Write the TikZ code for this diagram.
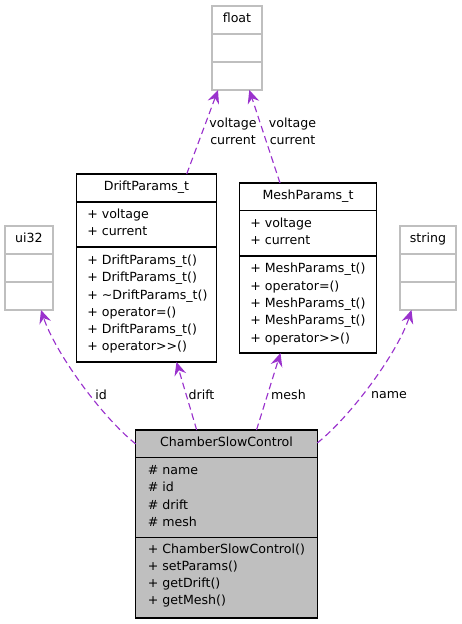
\documentclass[tikz,border=0pt]{standalone}
\usepackage{fontspec}
\setmainfont{DejaVu Sans}
\usetikzlibrary{arrows.meta,calc}
\definecolor{greyfs}{RGB}{191,191,191}
\definecolor{orchid}{RGB}{154,50,205}
\tikzset{
  cls/.style={draw=black, line width=0.9pt, inner sep=0pt, outer sep=0pt, anchor=north west},
  ext/.style={draw=greyfs, line width=0.9pt, inner sep=0pt, outer sep=0pt, anchor=north west},
  clsline/.style={draw=black, line width=0.9pt},
  extline/.style={draw=greyfs, line width=0.9pt},
  txt/.style={font=\fontsize{9.45pt}{12.75pt}\selectfont, inner sep=0pt, text height=6.8pt, text depth=1.8pt},
  lt/.style={txt, anchor=west},
  lbl/.style={font=\fontsize{9.45pt}{12.75pt}\selectfont, inner sep=0pt, align=center},
  edge/.style={draw=orchid, line width=0.85pt, dash pattern=on 5pt off 3pt,
    -{Stealth[length=10pt,width=9pt,inset=3.5pt]}}
}
\begin{document}
\begin{tikzpicture}[x=0.75pt,y=-0.75pt]
\useasboundingbox (0,0) rectangle (461,624);
% float
\node[ext, minimum width=50*0.75pt, minimum height=84*0.75pt] (float) at (212,6) {};
\draw[extline] ($(float.north west)+(0,28)$) -- ($(float.north east)+(0,28)$);
\draw[extline] ($(float.north west)+(0,56)$) -- ($(float.north east)+(0,56)$);
\node[txt] (float-t) at (237,19.5) {float};
% ui32
\node[ext, minimum width=48*0.75pt, minimum height=84*0.75pt] (ui32) at (5,226) {};
\draw[extline] ($(ui32.north west)+(0,28)$) -- ($(ui32.north east)+(0,28)$);
\draw[extline] ($(ui32.north west)+(0,56)$) -- ($(ui32.north east)+(0,56)$);
\node[txt] (ui32-t) at (29,239.5) {ui32};
% string
\node[ext, minimum width=56*0.75pt, minimum height=84*0.75pt] (string) at (400,226) {};
\draw[extline] ($(string.north west)+(0,28)$) -- ($(string.north east)+(0,28)$);
\draw[extline] ($(string.north west)+(0,56)$) -- ($(string.north east)+(0,56)$);
\node[txt] (string-t) at (428,239.5) {string};
% DriftParams_t
\node[cls, fill=white, minimum width=140*0.75pt, minimum height=188*0.75pt] (drift) at (76.5,174) {};
\draw[clsline] ($(drift.north west)+(0,28)$) -- ($(drift.north east)+(0,28)$);
\draw[clsline] ($(drift.north west)+(0,73)$) -- ($(drift.north east)+(0,73)$);
\node[txt] (drift-t) at (146.5,187.5) {DriftParams\_t};
\node[lt] (drift-a1) at (87,215) {+ voltage};
\node[lt] (drift-a2) at (87,232.5) {+ current};
\node[lt] (drift-m1) at (87,261) {+ DriftParams\_t()};
\node[lt] (drift-m2) at (87,278.3) {+ DriftParams\_t()};
\node[lt] (drift-m3) at (87,295.7) {+ \char"007E DriftParams\_t()};
\node[lt] (drift-m4) at (87,313) {+ operator=()};
\node[lt] (drift-m5) at (87,330.3) {+ DriftParams\_t()};
\node[lt] (drift-m6) at (87,347.3) {+ operator>{}>()};
% MeshParams_t
\node[cls, fill=white, minimum width=137.4*0.75pt, minimum height=170*0.75pt] (mesh) at (239.3,183) {};
\draw[clsline] ($(mesh.north west)+(0,27.7)$) -- ($(mesh.north east)+(0,27.7)$);
\draw[clsline] ($(mesh.north west)+(0,73)$) -- ($(mesh.north east)+(0,73)$);
\node[txt] (mesh-t) at (308,196.5) {MeshParams\_t};
\node[lt] (mesh-a1) at (250,224) {+ voltage};
\node[lt] (mesh-a2) at (250,241) {+ current};
\node[lt] (mesh-m1) at (250,269.5) {+ MeshParams\_t()};
\node[lt] (mesh-m2) at (250,287) {+ operator=()};
\node[lt] (mesh-m3) at (250,304) {+ MeshParams\_t()};
\node[lt] (mesh-m4) at (250,321.3) {+ MeshParams\_t()};
\node[lt] (mesh-m5) at (250,339) {+ operator>{}>()};
% ChamberSlowControl
\node[cls, fill=greyfs, minimum width=181.6*0.75pt, minimum height=188*0.75pt] (chamber) at (135.7,430) {};
\draw[clsline] ($(chamber.north west)+(0,27.7)$) -- ($(chamber.north east)+(0,27.7)$);
\draw[clsline] ($(chamber.north west)+(0,107.7)$) -- ($(chamber.north east)+(0,107.7)$);
\node[txt] (chamber-t) at (226.5,443.5) {ChamberSlowControl};
\node[lt] (chamber-a1) at (147.5,471) {\# name};
\node[lt] (chamber-a2) at (147.5,488.3) {\# id};
\node[lt] (chamber-a3) at (147.5,505.7) {\# drift};
\node[lt] (chamber-a4) at (147.5,523) {\# mesh};
\node[lt] (chamber-m1) at (147.5,550.3) {+ ChamberSlowControl()};
\node[lt] (chamber-m2) at (147.5,567.3) {+ setParams()};
\node[lt] (chamber-m3) at (147.5,584.3) {+ getDrift()};
\node[lt] (chamber-m4) at (147.5,601.3) {+ getMesh()};
% edges
\draw[edge] ($(drift.north west)+(110.2,0)$) -- ($(float.south west)+(6,0)$);
\draw[edge] ($(mesh.north west)+(40.7,0)$) -- ($(float.south west)+(37.3,0)$);
\draw[edge] ($(chamber.north west)+(0,14)$) .. controls (100,415) and (55,352) .. ($(ui32.south west)+(36,0)$);
\draw[edge] ($(chamber.north west)+(61,0)$) -- ($(drift.south west)+(100,0)$);
\draw[edge] ($(chamber.north west)+(120.8,0)$) -- ($(mesh.south west)+(41.2,0)$);
\draw[edge] ($(chamber.north east)+(0,13)$) .. controls (352,415) and (398,352) .. ($(string.south west)+(11.5,0)$);
% labels
\node[lbl] (l-fd) at (233,131) {voltage\\current};
\node[lbl] (l-fm) at (292.5,131) {voltage\\current};
\node[lbl] (l-id) at (101,395) {id};
\node[lbl] (l-drift) at (201.5,395) {drift};
\node[lbl] (l-mesh) at (288.5,395) {mesh};
\node[lbl] (l-name) at (389,395) {name};
\end{tikzpicture}
\end{document}
